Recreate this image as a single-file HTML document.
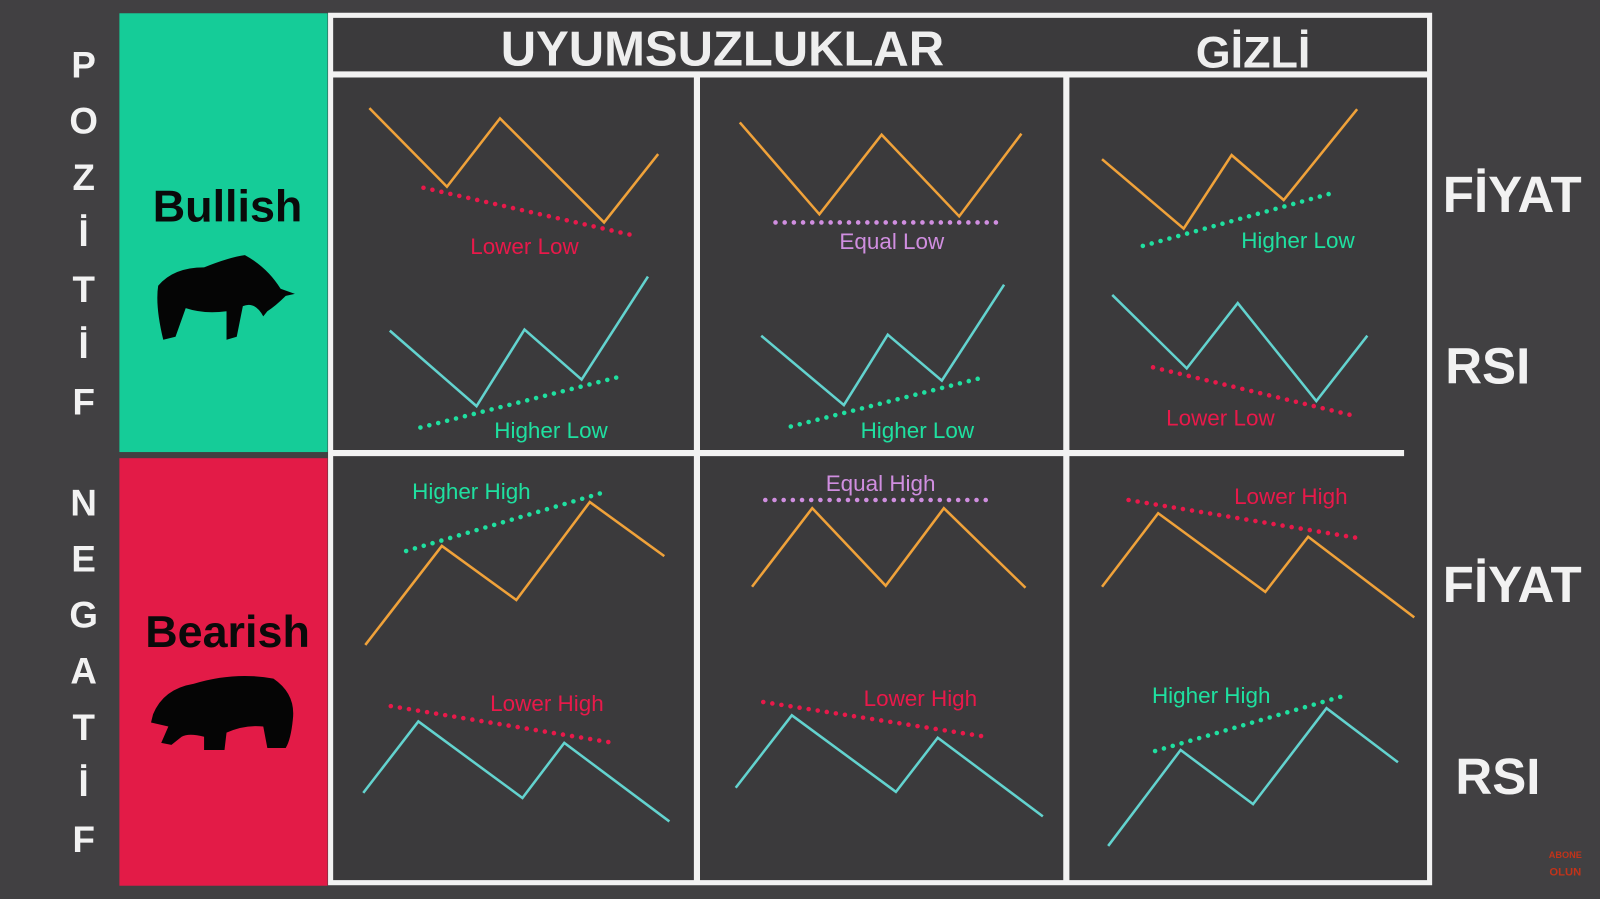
<!DOCTYPE html>
<html><head><meta charset="utf-8"><style>
html,body{margin:0;padding:0;background:#414042;}
svg{display:block;font-family:"Liberation Sans",sans-serif;}
</style></head><body>
<svg id="c" width="1600" height="899" viewBox="0 0 1568 881" preserveAspectRatio="none">
<rect x="0" y="0" width="1568" height="881" fill="#414042"/>
<rect x="117" y="13" width="204" height="430" fill="#15cc98"/>
<rect x="117" y="449" width="204" height="419" fill="#e31b47"/>
<text x="223" y="217" font-size="44" font-weight="bold" text-anchor="middle" fill="#0a0a0a">Bullish</text>
<text x="223" y="634" font-size="44" font-weight="bold" text-anchor="middle" fill="#0a0a0a">Bearish</text>
<path d="M155,280 Q170,262 200,262 Q225,252 240,250 Q262,262 275,283 L289,288 L280,290 Q270,300 262,305 L258,310 Q250,295 238,300 L232,330 L222,333 L222,305 Q200,308 182,302 L172,330 L160,333 Q152,300 155,280 Z" fill="#050505"/>
<path d="M150,700 Q160,675 190,670 Q230,658 268,665 Q290,680 287,705 Q285,725 280,733 L262,733 L258,712 Q240,710 222,718 L220,735 L200,735 L200,722 Q185,718 178,722 L168,730 L158,728 L165,712 L148,708 Z" fill="#050505"/>
<rect x="324" y="15" width="1077" height="850" fill="#3b3a3c" stroke="#f2f2f2" stroke-width="5"/>
<line x1="324" y1="73" x2="1401" y2="73" stroke="#f2f2f2" stroke-width="6"/>
<line x1="683" y1="73" x2="683" y2="865" stroke="#f2f2f2" stroke-width="6"/>
<line x1="1045" y1="73" x2="1045" y2="865" stroke="#f2f2f2" stroke-width="6"/>
<line x1="324" y1="444" x2="1376" y2="444" stroke="#f2f2f2" stroke-width="6"/>
<text x="708" y="64" font-size="48" font-weight="bold" text-anchor="middle" fill="#eeeeee">UYUMSUZLUKLAR</text>
<text x="1228" y="66" font-size="44" font-weight="bold" text-anchor="middle" fill="#eeeeee">GİZLİ</text>
<g id="marks"></g>
<g id="side"></g>
<text x="1534" y="841" font-size="9" font-weight="bold" text-anchor="middle" fill="#c2331a">ABONE</text>
<text x="1534" y="858" font-size="11" font-weight="bold" text-anchor="middle" fill="#c2331a">OLUN</text>
</svg>
<script>
// Panel data: zig-zag point values (x,y) in each cell's local units, plus trendline endpoints
const panelNames = ["bull-reg-price","bull-reg-rsi","bull-eq-price","bull-eq-rsi","bull-hid-price","bull-hid-rsi","bear-reg-price","bear-reg-rsi","bear-eq-price","bear-eq-rsi","bear-hid-price","bear-hid-rsi"];
const panelOrigins = [[324,73],[324,73],[683,73],[683,73],[1045,73],[1045,73],[324,444],[324,444],[683,444],[683,444],[1045,444],[1045,444]];
const lineXs = [[38,114,166,268,321],[58,143,190,246,311],[42,120,181,257,318],[63,144,187,240,301],[35,115,162,213,285],[45,118,168,245,295],[34,109,182,254,327],[32,86,188,229,332],[54,113,185,242,322],[38,93,195,236,339],[35,90,195,237,341],[41,112,183,255,325]];
const lineYs = [[33,110,43,145,78],[251,325,250,299,198],[47,137,59,139,58],[256,324,255,300,206],[83,151,79,123,34],[216,288,224,320,256],[188,91,144,48,101],[333,263,338,284,361],[131,54,130,54,132],[328,257,332,279,356],[131,59,136,82,161],[385,291,344,250,303]];
const lineColors = ["#f0a23a","#63d3cf","#f0a23a","#63d3cf","#f0a23a","#63d3cf","#f0a23a","#63d3cf","#f0a23a","#63d3cf","#f0a23a","#63d3cf"];
const dotX1 = [91,88,77,92,75,85,74,59,67,65,61,87];
const dotY1 = [111,346,145,345,168,287,96,248,46,244,46,292];
const dotX2 = [298,288,302,280,265,280,266,277,292,283,284,275];
const dotY2 = [158,295,145,297,115,334,39,284,46,278,83,237];
const dotColors = ["#e8194a","#1fe0a0","#d08ee0","#1fe0a0","#1fe0a0","#e8194a","#1fe0a0","#e8194a","#d08ee0","#e8194a","#e8194a","#1fe0a0"];
const labels = ["Lower Low","Higher Low","Equal Low","Higher Low","Higher Low","Lower Low","Higher High","Lower High","Equal High","Lower High","Lower High","Higher High"];
const labelX = [190,216,191,216,227,151,138,212,180,219,220,142];
const labelY = [176,356,171,356,170,344,45,253,37,248,50,245];
const sideLetters1 = ["P","O","Z","İ","T","İ","F"];
const sideLetters2 = ["N","E","G","A","T","İ","F"];
const rightLabels = ["FİYAT","RSI","FİYAT","RSI"];
const rightX = [1482,1458,1482,1468];
const rightY = [190,358,572,760];

const NS="http://www.w3.org/2000/svg";
const sx=(p,v)=>panelOrigins[p][0]+v;
const sy=(p,v)=>panelOrigins[p][1]+v;
const g=document.getElementById('marks');
function mk(tag,attrs,parent){const e=document.createElementNS(NS,tag);for(const k in attrs)e.setAttribute(k,attrs[k]);parent.appendChild(e);return e;}
for(let p=0;p<panelNames.length;p++){
  const pts=lineXs[p].map((x,i)=>sx(p,x)+','+sy(p,lineYs[p][i])).join(' ');
  const pl=mk('polyline',{points:pts,fill:'none',stroke:lineColors[p],'stroke-width':2.5},g);
  
  
  const dl=mk('line',{x1:sx(p,dotX1[p]),y1:sy(p,dotY1[p]),x2:sx(p,dotX2[p]),y2:sy(p,dotY2[p]),stroke:dotColors[p],'stroke-width':4.5,'stroke-linecap':'round','stroke-dasharray':'0 9'},g);
  
  
  const t=mk('text',{x:sx(p,labelX[p]),y:sy(p,labelY[p]),'font-size':22,'text-anchor':'middle',fill:dotColors[p]},g);
  t.textContent=labels[p];
  
  
}
const s=document.getElementById('side');
sideLetters1.forEach((c,i)=>{const t=mk('text',{x:82,y:76+i*55,'font-size':36,'font-weight':'bold','text-anchor':'middle',fill:'#f2f2f2'},s);t.textContent=c;
  
  });
sideLetters2.forEach((c,i)=>{const t=mk('text',{x:82,y:505+i*55,'font-size':36,'font-weight':'bold','text-anchor':'middle',fill:'#f2f2f2'},s);t.textContent=c;
  
  });
rightLabels.forEach((c,i)=>{const t=mk('text',{x:rightX[i],y:rightY[i]+18,'font-size':50,'font-weight':'bold','text-anchor':'middle',fill:'#f2f2f2'},s);t.textContent=c;
  
  });
</script>
</body></html>
